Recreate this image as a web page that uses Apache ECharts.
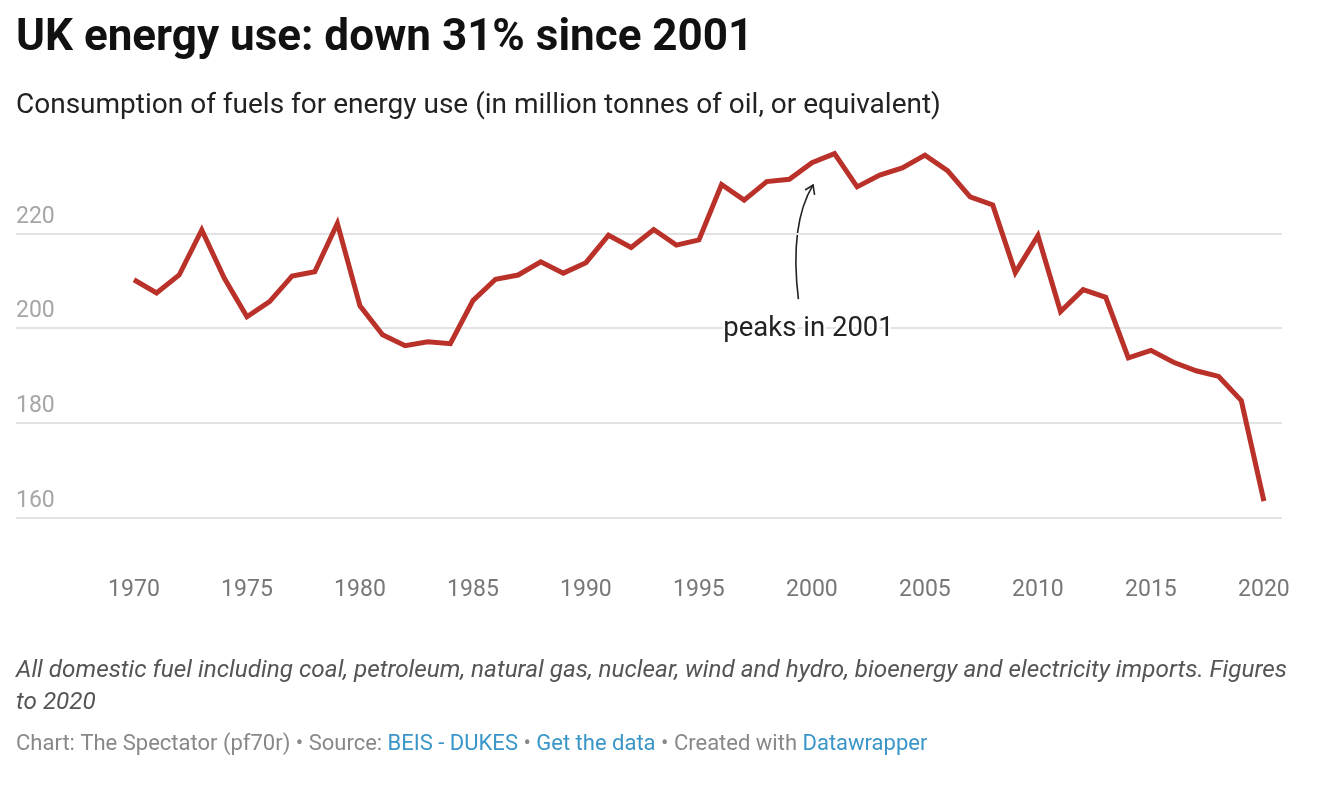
<!DOCTYPE html>
<html>
<head>
<meta charset="utf-8">
<script src="https://cdn.jsdelivr.net/npm/echarts@6/dist/echarts.min.js"></script>
<style>
html,body{margin:0;padding:0;background:#fff;}
#chart{width:1318px;height:790px;}
</style>
</head>
<body>
<div id="chart"></div>
<script>
const years = [1970,1971,1972,1973,1974,1975,1976,1977,1978,1979,1980,1981,1982,1983,1984,1985,1986,1987,1988,1989,1990,1991,1992,1993,1994,1995,1996,1997,1998,1999,2000,2001,2002,2003,2004,2005,2006,2007,2008,2009,2010,2011,2012,2013,2014,2015,2016,2017,2018,2019,2020];
const energyUse = [210.2,207.4,211.2,220.7,210.5,202.4,205.6,211.0,211.9,222.1,204.7,198.6,196.3,197.1,196.7,205.8,210.3,211.2,214.0,211.6,213.8,219.6,217.0,220.8,217.5,218.6,230.3,227.0,230.9,231.4,234.9,236.8,229.8,232.3,233.8,236.5,233.2,227.7,226.0,211.7,219.5,203.5,208.1,206.5,193.7,195.3,192.8,191.0,189.8,184.7,163.5];
const xTicks = [1970,1975,1980,1985,1990,1995,2000,2005,2010,2015,2020];
const yTicks = [160,180,200,220];

const titleText = 'UK energy use: down 31% since 2001';
const subtitleText = 'Consumption of fuels for energy use (in million tonnes of oil, or equivalent)';
const noteText = 'All domestic fuel including coal, petroleum, natural gas, nuclear, wind and hydro, bioenergy and electricity imports. Figures\nto 2020';
const annotationText = 'peaks in 2001';

const FONT = 'Roboto, "Noto Sans", sans-serif';
const chart = echarts.init(document.getElementById('chart'), null, {renderer: 'canvas'});

const option = {
  animation: false,
  backgroundColor: '#fff',
  textStyle: {fontFamily: FONT},
  grid: {left: 16, right: 36, top: 233.3, bottom: 272.3, containLabel: false},
  xAxis: {
    type: 'value',
    min: 1964.78,
    max: 2020.8,
    axisLine: {show: false},
    axisTick: {show: false},
    splitLine: {show: false},
    axisLabel: {
      customValues: xTicks,
      color: '#777',
      fontSize: 23,
      fontFamily: FONT,
      margin: 61,
      formatter: v => String(v)
    }
  },
  yAxis: {
    type: 'value',
    min: 160,
    max: 220,
    interval: 20,
    axisLine: {show: false},
    axisTick: {show: false},
    splitLine: {show: true, lineStyle: {color: '#e3e3e3', width: 2}},
    axisLabel: {
      inside: true,
      margin: 0,
      align: 'left',
      verticalAlign: 'bottom',
      lineHeight: 23,
      padding: [0, 0, 5, 0],
      color: '#a6a6a6',
      fontSize: 23,
      fontFamily: FONT,
      formatter: v => yTicks.indexOf(v) >= 0 ? String(v) : ''
    }
  },
  series: [{
    type: 'line',
    data: years.map((y, i) => [y, energyUse[i]]),
    clip: false,
    symbol: 'none',
    lineStyle: {color: '#b93129', width: 5, join: 'miter'},
    z: 5
  }],
  graphic: [
    {id: 'title', type: 'text', left: 16, top: 17, style: {text: titleText, fontSize: 44, fontWeight: 'bold', fontFamily: FONT, fill: '#111'}},
    {id: 'subtitle', type: 'text', left: 16, top: 92, style: {text: subtitleText, fontSize: 28, fontFamily: FONT, fill: '#222'}},
    {id: 'note', type: 'text', left: 16, top: 655, style: {text: noteText, fontSize: 24.3, fontStyle: 'italic', fontFamily: FONT, fill: '#555', lineHeight: 32}},
    {id: 'footer', type: 'text', left: 16, top: 733, style: {
      text: '{g|Chart: The Spectator (pf70r) • Source: }{b|BEIS - DUKES}{g| • }{b|Get the data}{g| • Created with }{b|Datawrapper}',
      rich: {
        g: {fontSize: 22, fontFamily: FONT, fill: '#888'},
        b: {fontSize: 22, fontFamily: FONT, fill: '#3a96c8'}
      }
    }}
  ]
};
chart.setOption(option);

// annotation anchored to data coordinates
const tip = chart.convertToPixel({gridIndex: 0}, [2000.05, 230.2]);
const start = chart.convertToPixel({gridIndex: 0}, [1999.4, 206.1]);
const ctrl = chart.convertToPixel({gridIndex: 0}, [1999.0, 222.0]);
const label = chart.convertToPixel({gridIndex: 0}, [1999.85, 199.7]);
chart.setOption({
  graphic: [
    {id: 'annText', type: 'text', x: label[0], y: label[1], z: 10, style: {text: annotationText, fontSize: 27.5, fontFamily: FONT, fill: '#222', align: 'center', verticalAlign: 'middle', stroke: '#fff', lineWidth: 5}},
    {id: 'annCurve', type: 'bezierCurve', shape: {x1: start[0], y1: start[1], x2: tip[0], y2: tip[1], cpx1: ctrl[0], cpy1: ctrl[1]}, style: {stroke: '#222', lineWidth: 1.6, fill: 'none'}},
    {id: 'annHead', type: 'polyline', shape: {points: [[tip[0] - 8, tip[1] + 5], [tip[0], tip[1]], [tip[0] + 1.5, tip[1] + 10]]}, style: {stroke: '#222', lineWidth: 1.6, fill: 'none'}}
  ]
});
</script>
</body>
</html>
